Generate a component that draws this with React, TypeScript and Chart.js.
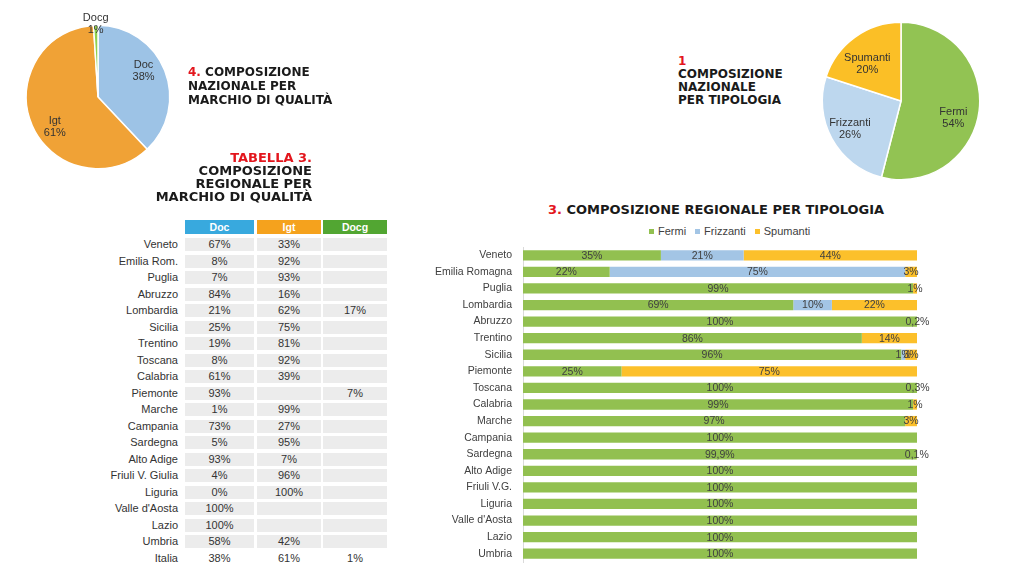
import React, { useEffect, useRef } from "react";
import { Chart, registerables } from "chart.js";

Chart.register(...registerables);

// ---- Pie 4: national composition by quality mark ----
const qualityLabels = ["Doc", "Igt", "Docg"];
const qualityShares = [38, 61, 1];
const qualityColors = ["#9DC3E6", "#F0A236", "#8FD14F"];

// ---- Pie 1: national composition by type ----
const typeLabels = ["Fermi", "Frizzanti", "Spumanti"];
const typeShares = [54, 26, 20];
const typePieColors = ["#92C353", "#BDD7EE", "#FBBF26"];

// ---- Table 3: regional composition by quality mark ----
const tableHeaders = ["Doc", "Igt", "Docg"];
const tableHeaderColors = ["#38A9DE", "#F5A21D", "#52A632"];
const tableRegions = [
  "Veneto", "Emilia Rom.", "Puglia", "Abruzzo", "Lombardia", "Sicilia", "Trentino",
  "Toscana", "Calabria", "Piemonte", "Marche", "Campania", "Sardegna", "Alto Adige",
  "Friuli V. Giulia", "Liguria", "Valle d'Aosta", "Lazio", "Umbria", "Italia",
];
const tableDoc = [67, 8, 7, 84, 21, 25, 19, 8, 61, 93, 1, 73, 5, 93, 4, 0, 100, 100, 58, 38];
const tableIgt = [33, 92, 93, 16, 62, 75, 81, 92, 39, null, 99, 27, 95, 7, 96, 100, null, null, 42, 61];
const tableDocg = [null, null, null, null, 17, null, null, null, null, 7, null, null, null, null, null, null, null, null, null, 1];

// ---- Chart 3: regional composition by type ----
const barRegions = [
  "Veneto", "Emilia Romagna", "Puglia", "Lombardia", "Abruzzo", "Trentino", "Sicilia",
  "Piemonte", "Toscana", "Calabria", "Marche", "Campania", "Sardegna", "Alto Adige",
  "Friuli V.G.", "Liguria", "Valle d'Aosta", "Lazio", "Umbria",
];
const fermi = [35, 22, 99, 68.6, 100, 86, 96, 25, 100, 99, 97, 100, 99.9, 100, 100, 100, 100, 100, 100];
const frizzanti = [21, 75, 0, 9.8, 0, 0, 1, 0, 0, 0, 0, 0, 0, 0, 0, 0, 0, 0, 0];
const spumanti = [44, 3, 1, 21.6, 0.2, 14, 3, 75, 0.3, 1, 3, 0, 0.1, 0, 0, 0, 0, 0, 0];
const barColors = ["#92C050", "#A3C5E5", "#FCC02B"];

const RED = "#E3161D";
const TITLE_FONT = "'DejaVu Sans', 'Liberation Sans', sans-serif";
const TEXT_FONT = "'Liberation Sans', Arial, sans-serif";

function fmtPct(v: number): string {
  if (v < 1 || (v > 99 && v < 100)) return v.toFixed(1).replace(".", ",") + "%";
  return Math.round(v) + "%";
}

// label placement: radial factor and angular shift (degrees) per slice
function pieLabelPlugin(factors: number[], shifts: number[]) {
  return {
    id: "pieLabels",
    afterDatasetsDraw(chart: any) {
      const ctx = chart.ctx;
      const meta = chart.getDatasetMeta(0);
      const labels = chart.data.labels;
      const values = chart.data.datasets[0].data;
      ctx.save();
      ctx.font = `11px ${TEXT_FONT}`;
      ctx.fillStyle = "#333333";
      ctx.textAlign = "center";
      ctx.textBaseline = "middle";
      meta.data.forEach((arc: any, i: number) => {
        const p = arc.getProps(["x", "y", "startAngle", "endAngle", "outerRadius"], true);
        const mid = (p.startAngle + p.endAngle) / 2 + (shifts[i] * Math.PI) / 180;
        const r = p.outerRadius * factors[i];
        const px = p.x + Math.cos(mid) * r;
        const py = p.y + Math.sin(mid) * r;
        ctx.fillText(String(labels[i]), px, py - 6);
        ctx.fillText(values[i] + "%", px, py + 6);
      });
      ctx.restore();
    },
  };
}

const barValuePlugin = {
  id: "barValues",
  afterDatasetsDraw(chart: any) {
    const ctx = chart.ctx;
    ctx.save();
    ctx.font = `10.5px ${TEXT_FONT}`;
    ctx.fillStyle = "#404040";
    ctx.textAlign = "center";
    ctx.textBaseline = "middle";
    chart.data.datasets.forEach((ds: any, i: number) => {
      const meta = chart.getDatasetMeta(i);
      meta.data.forEach((el: any, j: number) => {
        const v = ds.data[j];
        if (!v) return;
        const c = el.getCenterPoint();
        ctx.fillText(fmtPct(v), c.x, c.y + 0.5);
      });
    });
    ctx.restore();
  },
};

function pieConfig(labels: string[], data: number[], colors: string[], pad: any, factors: number[], shifts: number[]): any {
  return {
    type: "pie",
    data: {
      labels,
      datasets: [{ data, backgroundColor: colors, borderColor: "#ffffff", borderWidth: 1.5 }],
    },
    options: {
      responsive: false,
      animation: false,
      layout: { padding: pad },
      plugins: { legend: { display: false }, tooltip: { enabled: false } },
    },
    plugins: [pieLabelPlugin(factors, shifts)],
  };
}

function barConfig(): any {
  const series = [fermi, frizzanti, spumanti];
  return {
    type: "bar",
    data: {
      labels: barRegions,
      datasets: typeLabels.map((l, k) => ({
        label: l,
        data: series[k],
        backgroundColor: barColors[k],
        borderWidth: 0,
        barPercentage: 0.62,
        categoryPercentage: 1,
      })),
    },
    options: {
      indexAxis: "y",
      responsive: false,
      animation: false,
      layout: { padding: { top: 9, bottom: 6, left: 0, right: 23 } },
      plugins: { legend: { display: false }, tooltip: { enabled: false } },
      scales: {
        x: { stacked: true, display: false, min: 0, max: 100 },
        y: {
          stacked: true,
          grid: { display: false, drawTicks: false },
          border: { display: true, color: "#DADADA", width: 1 },
          ticks: {
            autoSkip: false,
            padding: 11,
            color: "#404040",
            font: { size: 10.5, family: TEXT_FONT },
          },
          afterFit: (s: any) => {
            s.width = 103;
            s.paddingTop = 0;
            s.paddingBottom = 0;
          },
        },
      },
    },
    plugins: [barValuePlugin],
  };
}

function ChartCanvas(props: { left: number; top: number; width: number; height: number; make: () => any }) {
  const ref = useRef<HTMLCanvasElement>(null);
  useEffect(() => {
    const chart = new Chart(ref.current as HTMLCanvasElement, props.make());
    return () => chart.destroy();
  }, []);
  return (
    <canvas
      ref={ref}
      width={props.width}
      height={props.height}
      style={{ position: "absolute", left: props.left, top: props.top, width: props.width, height: props.height }}
    />
  );
}

function Table() {
  const colLeft = [185, 257, 323];
  const colWidth = [69, 64, 64];
  const cols = [tableDoc, tableIgt, tableDocg];
  const last = tableRegions.length - 1;
  return (
    <div style={{ position: "absolute", left: 0, top: 0, fontFamily: TEXT_FONT, fontSize: 11, color: "#333" }}>
      {tableHeaders.map((h, k) => (
        <div
          key={h}
          style={{
            position: "absolute",
            left: colLeft[k],
            top: 220,
            width: colWidth[k],
            height: 14,
            lineHeight: "14px",
            background: tableHeaderColors[k],
            color: "#fff",
            fontWeight: "bold",
            fontSize: 10.5,
            textAlign: "center",
          }}
        >
          {h}
        </div>
      ))}
      {tableRegions.map((r, i) => {
        const top = 238 + i * 16.5;
        return (
          <React.Fragment key={r}>
            <div style={{ position: "absolute", left: 0, width: 178, top, height: 13, lineHeight: "13px", textAlign: "right", whiteSpace: "nowrap" }}>
              {r}
            </div>
            {cols.map((c, k) => (
              <div
                key={k}
                style={{
                  position: "absolute",
                  left: colLeft[k],
                  top,
                  width: colWidth[k],
                  height: 13,
                  lineHeight: "13px",
                  textAlign: "center",
                  background: i === last ? "transparent" : "#ECECEC",
                }}
              >
                {c[i] === null ? "" : c[i] + "%"}
              </div>
            ))}
          </React.Fragment>
        );
      })}
    </div>
  );
}

export default function App() {
  const titleBase: React.CSSProperties = {
    position: "absolute",
    fontFamily: TITLE_FONT,
    fontWeight: "bold",
    color: "#1a1a1a",
    whiteSpace: "nowrap",
  };
  return (
    <div style={{ position: "absolute", left: 0, top: 0, width: 1024, height: 576, background: "#fff", overflow: "hidden" }}>
      <ChartCanvas
        left={0}
        top={0}
        width={200}
        height={190}
        make={() =>
          pieConfig(
            qualityLabels,
            qualityShares,
            qualityColors,
            { left: 25.5, right: 29.5, top: 24.5, bottom: 20.5 },
            [0.73, 0.73, 1.02],
            [-8, -11, 0]
          )
        }
      />
      <ChartCanvas
        left={800}
        top={0}
        width={224}
        height={200}
        make={() =>
          pieConfig(
            typeLabels,
            typeShares,
            typePieColors,
            { left: 21.5, right: 43.5, top: 21.5, bottom: 19.5 },
            [0.7, 0.74, 0.64],
            [11, 0, -6]
          )
        }
      />
      <ChartCanvas left={420} top={238} width={520} height={330} make={barConfig} />

      <div style={{ ...titleBase, left: 188, top: 65, fontSize: 12, lineHeight: "14px" }}>
        <span style={{ color: RED }}>4.</span> COMPOSIZIONE
        <br />
        NAZIONALE PER
        <br />
        MARCHIO DI QUALITÀ
      </div>

      <div style={{ ...titleBase, left: 678, top: 55, fontSize: 12, lineHeight: "13px" }}>
        <span style={{ color: RED }}>1</span>
        <br />
        COMPOSIZIONE
        <br />
        NAZIONALE
        <br />
        PER TIPOLOGIA
      </div>

      <div style={{ ...titleBase, left: 100, width: 212, top: 150.5, fontSize: 13, lineHeight: "13.3px", textAlign: "right" }}>
        <span style={{ color: RED }}>TABELLA 3.</span>
        <br />
        COMPOSIZIONE
        <br />
        REGIONALE PER
        <br />
        MARCHIO DI QUALITÀ
      </div>

      <div style={{ ...titleBase, left: 548, top: 202, fontSize: 13, lineHeight: "16px" }}>
        <span style={{ color: RED }}>3.</span> COMPOSIZIONE REGIONALE PER TIPOLOGIA
      </div>

      <div
        style={{
          position: "absolute",
          left: 649,
          top: 224,
          height: 14,
          display: "flex",
          alignItems: "center",
          gap: 9,
          fontFamily: TEXT_FONT,
          fontSize: 11,
          color: "#404040",
        }}
      >
        {typeLabels.map((l, k) => (
          <div key={l} style={{ display: "flex", alignItems: "center" }}>
            <span style={{ display: "inline-block", width: 5, height: 5, background: barColors[k], marginRight: 4 }} />
            {l}
          </div>
        ))}
      </div>

      <Table />
    </div>
  );
}
